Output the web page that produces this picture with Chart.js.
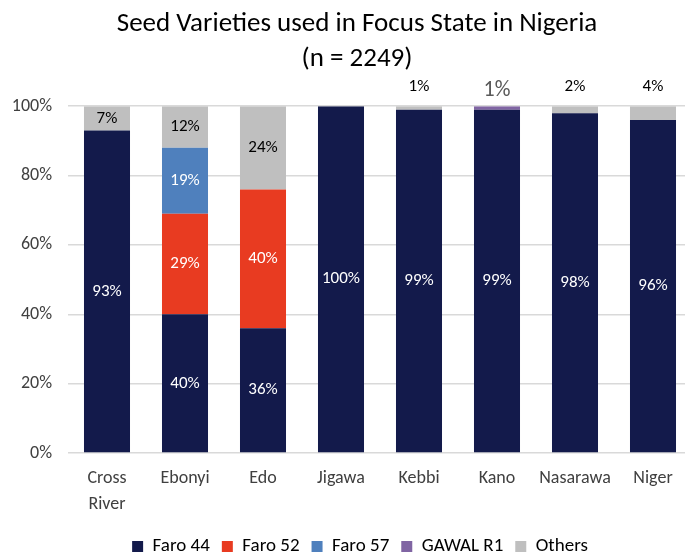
<!DOCTYPE html>
<html>
<head>
<meta charset="utf-8">
<script src="https://cdn.jsdelivr.net/npm/chart.js@4"></script>
<style>
  html, body { margin: 0; padding: 0; background: #fff; overflow: hidden; }
  #wrap { width: 700px; height: 554px; }
</style>
</head>
<body>
<div id="wrap"><canvas id="chart"></canvas></div>
<script>
// data
let states = [["Cross", "River"], "Ebonyi", "Edo", "Jigawa", "Kebbi", "Kano", "Nasarawa", "Niger"];
let faro44 = [93, 40, 36, 100, 99, 99, 98, 96];
let faro52 = [0, 29, 40, 0, 0, 0, 0, 0];
let faro57 = [0, 19, 0, 0, 0, 0, 0, 0];
let gawalR1 = [0, 0, 0, 0, 0, 1, 0, 0];
let others = [7, 12, 24, 0, 1, 0, 2, 4];
let yTicks = [0, 20, 40, 60, 80, 100];

let font = "Carlito, Lato, 'Liberation Sans', sans-serif";

// Labels inside segments, small ones above the bar
let labelPlugin = {
  id: "segLabels",
  afterDatasetsDraw(c) {
    let ctx = c.ctx;
    ctx.save();
    ctx.textAlign = "center";
    ctx.textBaseline = "middle";
    let top = c.scales.y.getPixelForValue(100);
    c.data.datasets.forEach((ds, i) => {
      let meta = c.getDatasetMeta(i);
      meta.data.forEach((bar, j) => {
        let v = ds.data[j];
        if (!v) return;
        if (v >= 5) {
          ctx.font = "17px " + font;
          ctx.fillStyle = ds.labelColor;
          ctx.fillText(v + "%", bar.x, (bar.y + bar.base) / 2);
        } else if (ds.label === "GAWAL R1") {
          ctx.font = "22px " + font;
          ctx.fillStyle = "#595959";
          ctx.fillText(v + "%", bar.x, top - 16);
        } else {
          ctx.font = "17px " + font;
          ctx.fillStyle = "#000";
          ctx.fillText(v + "%", bar.x, top - 19);
        }
      });
    });
    ctx.restore();
  }
};

// nudge title and legend so they sit centred like the original
let shiftPlugin = {
  id: "shift",
  afterLayout(c) {
    c.titleBlock.left += 11;
    c.titleBlock.right += 11;
    c.legend.left += 14;
    c.legend.right += 14;
  }
};

function makeSet(label, data, color, labelColor) {
  return {
    label: label,
    data: data,
    backgroundColor: color,
    labelColor: labelColor,
    barPercentage: 0.59,
    categoryPercentage: 1
  };
}

new Chart(document.getElementById("chart"), {
  type: "bar",
  data: {
    labels: states,
    datasets: [
      makeSet("Faro 44", faro44, "#131a4b", "#fff"),
      makeSet("Faro 52", faro52, "#e83b21", "#fff"),
      makeSet("Faro 57", faro57, "#4f80bd", "#fff"),
      makeSet("GAWAL R1", gawalR1, "#8065a3", "#fff"),
      makeSet("Others", others, "#bfbfbf", "#000")
    ]
  },
  options: {
    responsive: true,
    maintainAspectRatio: false,
    animation: false,
    layout: { padding: { left: 0, right: 8, top: 0, bottom: -12 } },
    plugins: {
      title: {
        display: true,
        text: ["Seed Varieties used in Focus State in Nigeria", "(n = 2249)"],
        color: "#000",
        font: { family: font, size: 27, weight: "normal", lineHeight: 1.3 },
        padding: { top: 7, bottom: 29 }
      },
      legend: {
        position: "bottom",
        labels: {
          color: "#000",
          boxWidth: 11,
          boxHeight: 11,
          padding: 12,
          font: { family: font, size: 19 }
        }
      },
      tooltip: { enabled: false }
    },
    scales: {
      x: {
        stacked: true,
        afterFit(s) { s.height = 72; },
        grid: { display: false },
        border: { display: false },
        ticks: { color: "#404040", font: { family: font, size: 18, lineHeight: 1.45 }, padding: 4, maxRotation: 0 }
      },
      y: {
        stacked: true,
        min: 0,
        max: 100,
        afterFit(s) { s.width = 68; },
        afterBuildTicks(s) { s.ticks = yTicks.map(v => ({ value: v })); },
        grid: { color: "#d9d9d9", lineWidth: 1.5, drawTicks: false },
        border: { display: false },
        ticks: {
          color: "#404040",
          font: { family: font, size: 18 },
          padding: 16,
          callback: v => v + "%"
        }
      }
    }
  },
  plugins: [labelPlugin, shiftPlugin]
});
</script>
</body>
</html>
